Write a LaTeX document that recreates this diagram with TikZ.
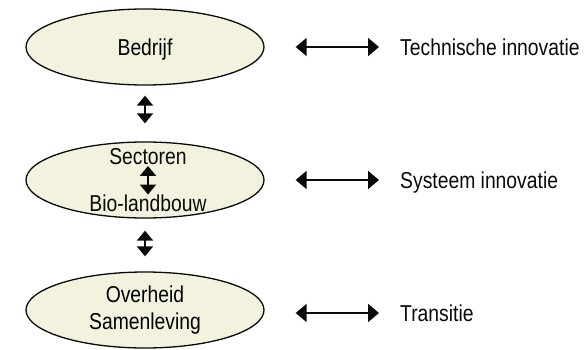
\documentclass[tikz,border=0pt]{standalone}
\usepackage{fontspec}
\setmainfont{Liberation Sans}[FakeStretch=0.84]
\usepackage{xcolor}
\usetikzlibrary{arrows.meta,positioning,shapes.geometric}
\definecolor{cream}    {HTML}{F2F2DF}
\definecolor{ink}      {HTML}{0A0A0A}
\tikzset{
  level/.style={ellipse,draw=ink,line width=1.3pt,fill=cream,
                minimum width=238pt,minimum height=76pt,
                inner sep=0pt,align=center},
  lbl/.style={inner sep=0pt,text height=16.5pt,text depth=0pt,text=ink},
  harrow/.style={{Triangle[length=11pt,width=18pt]}-{Triangle[length=11pt,width=18pt]},
                 line width=2pt,draw=ink},
  varrow/.style={{Triangle[length=10pt,width=16pt]}-{Triangle[length=10pt,width=16pt]},
                 line width=2pt,draw=ink}
}

\begin{document}
\begin{tikzpicture}[x=1pt,y=-1pt,font=\fontsize{23}{27}\selectfont]
      \useasboundingbox (0,0) rectangle (588,350);
      \node[level,text height=16.5pt,text depth=0pt] (bedrijf) at (145,47) {Bedrijf};
      \node[level] (sector) at (145,180) {};
      \node[level] (overheid) at (145,310) {Overheid\\Samenleving};
      \node[lbl] (sectoren) at (148,156) {Sectoren};
      \node[lbl] (bio) at (148,203) {Bio-landbouw};
      \node[lbl,anchor=west] (tech) at (400,47) {Technische innovatie};
      \node[lbl,anchor=west] (systeem) at (400,180) {Systeem innovatie};
      \node[lbl,anchor=west] (transitie) at (400,313) {Transitie};
      \draw[varrow,shorten <=10pt,shorten >=18pt] (bedrijf.south) -- (sector.north);
      \draw[varrow,shorten <=1.5pt,shorten >=0pt] (sectoren.south) -- (bio.north);
      \draw[varrow,shorten <=12pt,shorten >=15pt] (sector.south) -- (overheid.north);
      \draw[harrow,shorten <=31pt,shorten >=21pt] (bedrijf.east) -- (tech.west);
      \draw[harrow,shorten <=31pt,shorten >=21pt] (sector.east) -- (systeem.west);
      \draw[harrow,shorten <=31pt,shorten >=21pt] (overheid.east |- transitie.west) -- (transitie.west);
    \end{tikzpicture}
\end{document}
